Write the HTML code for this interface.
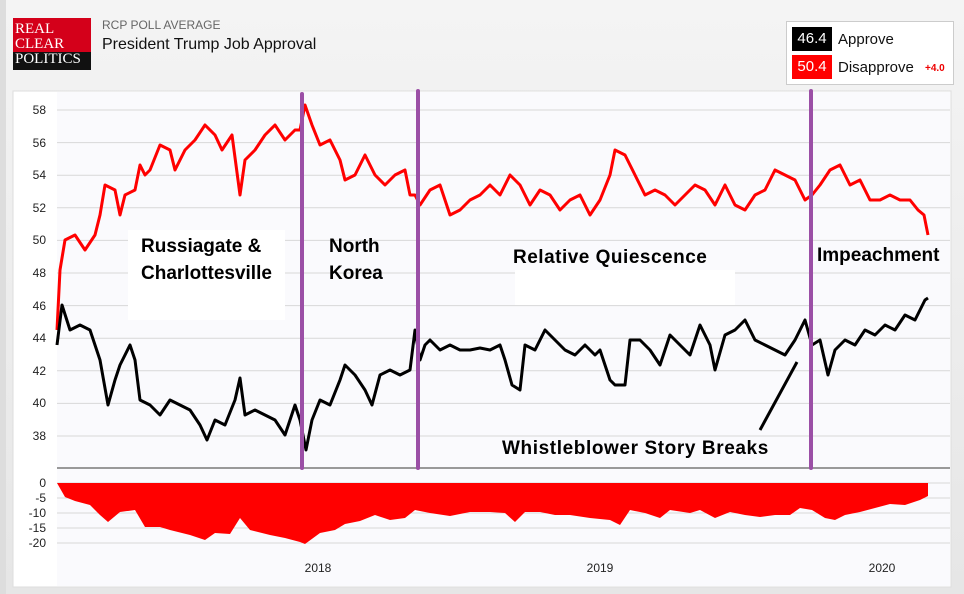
<!DOCTYPE html>
<html><head><meta charset="utf-8"><style>
body{margin:0;width:964px;height:594px;background:linear-gradient(#f4f4f4,#e6e6e6);font-family:"Liberation Sans",sans-serif;overflow:hidden;position:relative}
.a{position:absolute}
</style></head><body>
<div class="a" style="left:0;top:0;width:6px;height:594px;background:#ddd"></div>
<div class="a" style="left:13px;top:18px;width:78px;height:52px;background:#d4001a"></div>
<div class="a" style="left:13px;top:52px;width:78px;height:18px;background:#111"></div>
<div class="a" style="left:15px;top:22px;color:#fff;font-family:'Liberation Serif',serif;font-size:15px;line-height:15px">REAL<br>CLEAR<br>POLITICS</div>
<div class="a" style="left:102px;top:18px;color:#666;font-size:12px">RCP POLL AVERAGE</div>
<div class="a" style="left:102px;top:36px;color:#111;font-size:16px">President Trump Job Approval</div>
<div class="a" style="left:786px;top:21px;width:166px;height:62px;background:#fff;border:1px solid #ccc"></div>
<div class="a" style="left:792px;top:27px;width:40px;height:24px;background:#000;color:#fff;font-size:15px;line-height:24px;text-align:center">46.4</div>
<div class="a" style="left:838px;top:31px;font-size:15px;color:#111">Approve</div>
<div class="a" style="left:792px;top:55px;width:40px;height:24px;background:#f00;color:#fff;font-size:15px;line-height:24px;text-align:center">50.4</div>
<div class="a" style="left:838px;top:59px;font-size:15px;color:#111">Disapprove</div>
<div class="a" style="left:925px;top:63px;font-size:10px;color:#e00;font-weight:bold">+4.0</div>
<svg class="a" style="left:0;top:0" width="964" height="594">
<rect x="13" y="91" width="938" height="496" fill="#fff" stroke="#ddd"/>
<rect x="57" y="92" width="893" height="494" fill="#fafafd"/>
<g stroke="#d8d8d8" stroke-width="1">
<line x1="57" x2="950" y1="110" y2="110"/><line x1="57" x2="950" y1="142.6" y2="142.6"/><line x1="57" x2="950" y1="175.2" y2="175.2"/><line x1="57" x2="950" y1="207.8" y2="207.8"/><line x1="57" x2="950" y1="240.4" y2="240.4"/><line x1="57" x2="950" y1="273" y2="273"/><line x1="57" x2="950" y1="305.6" y2="305.6"/><line x1="57" x2="950" y1="338.2" y2="338.2"/><line x1="57" x2="950" y1="370.8" y2="370.8"/><line x1="57" x2="950" y1="403.4" y2="403.4"/><line x1="57" x2="950" y1="436" y2="436"/>
<line x1="57" x2="950" y1="483" y2="483"/><line x1="57" x2="950" y1="498" y2="498"/><line x1="57" x2="950" y1="513" y2="513"/><line x1="57" x2="950" y1="528" y2="528"/><line x1="57" x2="950" y1="543" y2="543"/>
</g>
<line x1="57" x2="950" y1="468" y2="468" stroke="#999" stroke-width="2"/>
<g font-size="12" fill="#222" text-anchor="end">
<text x="46" y="114">58</text><text x="46" y="147">56</text><text x="46" y="179">54</text><text x="46" y="212">52</text><text x="46" y="244">50</text><text x="46" y="277">48</text><text x="46" y="310">46</text><text x="46" y="342">44</text><text x="46" y="375">42</text><text x="46" y="407">40</text><text x="46" y="440">38</text>
<text x="46" y="487">0</text><text x="46" y="502">-5</text><text x="46" y="517">-10</text><text x="46" y="532">-15</text><text x="46" y="547">-20</text>
</g>
<g font-size="12" fill="#222" text-anchor="middle"><text x="318" y="572">2018</text><text x="600" y="572">2019</text><text x="882" y="572">2020</text></g>
<polygon fill="#f00" points="57,483 928,483 928,496 920,500 905,505 890,504 875,508 860,512 845,515 835,520 825,518 812,510 800,508 790,515 775,515 760,517 745,515 730,512 715,518 700,510 690,513 670,510 660,518 645,513 630,510 620,525 610,520 590,518 570,515 555,515 540,512 525,512 515,522 505,513 490,512 470,512 450,516 430,513 415,510 405,518 390,520 375,515 360,521 345,524 335,530 320,533 305,544 300,542 285,538 270,535 250,530 240,518 230,534 215,533 205,540 190,535 170,530 160,527 145,527 135,510 120,512 108,522 100,515 90,505 75,501 65,497"/>
<rect x="128" y="230" width="157" height="90" fill="#fff"/>
<rect x="515" y="270" width="220" height="35" fill="#fff"/>
<polyline fill="none" stroke="#f00" stroke-width="3" stroke-linejoin="round" points="57,330 60,270 65,240 75,235 85,250 95,235 100,215 105,185 115,190 120,215 125,195 135,190 140,165 145,175 150,170 160,145 170,150 175,170 185,150 195,140 205,125 215,135 222,150 232,135 240,195 245,160 255,150 265,135 275,125 285,140 295,130 300,130 305,105 312,125 320,145 330,140 340,160 345,180 355,175 365,155 375,175 385,185 395,175 405,170 410,195 415,195 420,205 430,190 440,185 450,215 460,210 470,200 480,195 490,185 500,195 510,175 520,185 530,205 540,190 550,195 560,210 570,200 580,195 590,215 600,200 610,175 615,150 625,155 635,175 645,195 655,190 665,195 675,205 685,195 695,185 705,190 715,205 725,185 735,205 745,210 755,195 765,190 775,170 785,175 795,180 805,200 812,195 820,185 830,170 840,165 850,185 860,180 870,200 880,200 890,195 900,200 910,200 918,210 924,215 928,235"/>
<polyline fill="none" stroke="#000" stroke-width="3" stroke-linejoin="round" points="57,345 62,305 70,330 80,325 90,330 100,360 108,405 115,380 120,365 130,345 135,360 140,400 150,405 160,415 170,400 180,405 190,410 200,425 207,440 215,420 225,425 235,400 240,378 245,415 255,410 265,415 275,420 285,435 295,405 300,420 306,450 312,420 320,400 330,405 340,380 345,365 355,375 365,390 372,405 380,375 390,370 400,375 410,370 415,330 420,360 425,345 430,340 440,350 450,345 460,350 470,350 480,348 490,350 500,345 505,360 512,385 520,390 525,345 535,350 545,330 555,340 565,350 575,355 585,345 595,355 600,350 610,380 615,385 625,385 630,340 640,340 650,350 660,365 670,335 680,345 690,355 700,325 710,345 715,370 725,335 735,330 745,320 755,340 765,345 775,350 785,355 795,340 805,320 812,345 820,340 828,375 835,350 845,340 855,345 865,330 875,335 885,325 895,330 905,315 915,320 925,300 928,298"/>
<g stroke="#9b4fa6" stroke-width="4" stroke-linecap="round"><line x1="302" x2="302" y1="94" y2="468"/><line x1="418" x2="418" y1="91" y2="468"/><line x1="811" x2="811" y1="91" y2="468"/></g>
<line x1="760" y1="430" x2="797" y2="362" stroke="#000" stroke-width="3"/>
<g font-size="19" font-weight="bold" fill="#000">
<text x="141" y="252">Russiagate &amp;</text><text x="141" y="279">Charlottesville</text>
<text x="329" y="252">North</text><text x="329" y="279">Korea</text>
<text x="513" y="263" letter-spacing="0.5">Relative Quiescence</text>
<text x="817" y="261">Impeachment</text>
<text x="502" y="454" letter-spacing="0.6">Whistleblower Story Breaks</text>
</g>
</svg>
</body></html>
